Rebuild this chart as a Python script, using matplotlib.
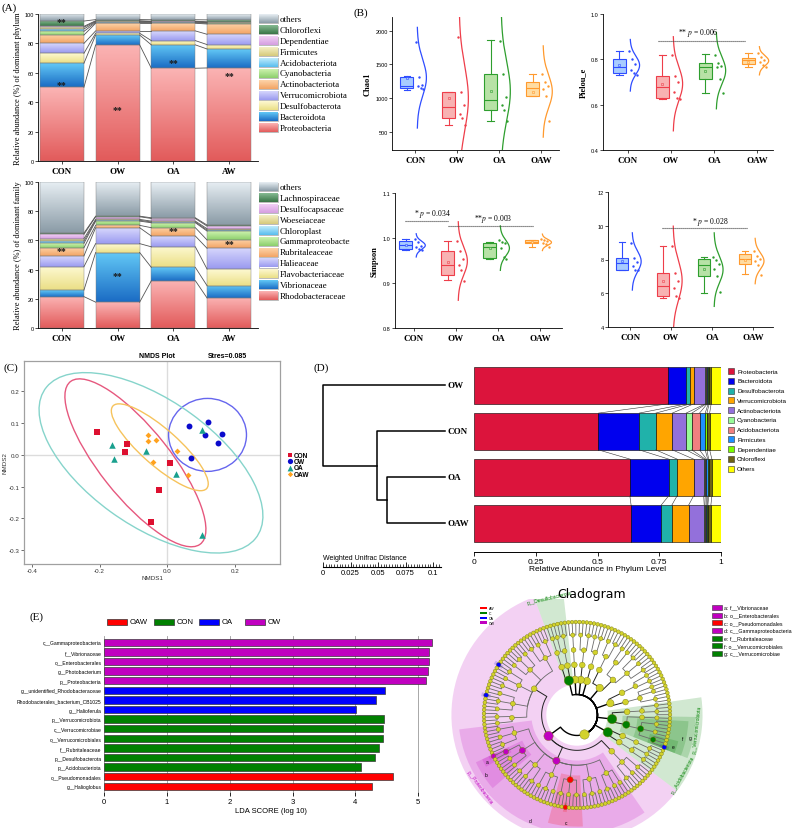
import numpy as np
import matplotlib
matplotlib.use('Agg')
import matplotlib.pyplot as plt
from matplotlib.colors import LinearSegmentedColormap
from matplotlib.patches import Rectangle, Ellipse, Wedge
from matplotlib.collections import LineCollection

SERIF = ['Liberation Serif', 'DejaVu Serif']
SANS = ['Liberation Sans', 'DejaVu Sans']
plt.rcParams['font.family'] = SANS
plt.rcParams['mathtext.fontset'] = 'stix'
plt.rcParams['axes.facecolor'] = 'none'

# ---------------- (A) relative abundance ----------------
a_groups = ['CON', 'OW', 'OA', 'AW']
phylum_names = ['Proteobacteria', 'Bacteroidota', 'Desulfobacterota', 'Verrucomicrobiota',
                'Actinobacteriota', 'Cyanobacteria', 'Acidobacteriota', 'Firmicutes',
                'Dependentiae', 'Chloroflexi', 'others']
# rows follow phylum_names, columns follow a_groups
phylum_pct = [[50.2, 79.0, 63.1, 63.3],
              [16.3, 6.7, 15.9, 12.9],
              [6.8, 1.2, 2.9, 3.0],
              [6.7, 1.6, 6.6, 7.0],
              [5.7, 5.2, 5.2, 7.0],
              [2.5, 0.5, 0.4, 0.5],
              [1.6, 0.5, 0.4, 0.4],
              [1.2, 0.4, 0.3, 0.3],
              [0.6, 0.3, 0.3, 0.3],
              [3.6, 0.8, 1.0, 1.3],
              [4.8, 3.8, 3.9, 4.0]]
phylum_stars = [(0, 52), (0, 95), (1, 35), (2, 67), (3, 58)]

family_names = ['Rhodobacteraceae', 'Vibrionaceae', 'Flavobacteriaceae', 'Halieaceae',
                'Rubritaleaceae', 'Gammaproteobacteria', 'Chloroplast', 'Woeseiaceae',
                'Desulfocapsaceae', 'Lachnospiraceae', 'others']
family_pct = [[21.5, 17.7, 32.4, 20.6],
              [4.5, 34.0, 9.1, 8.4],
              [16.0, 6.1, 14.1, 11.4],
              [7.4, 10.9, 7.4, 14.2],
              [5.6, 1.6, 5.7, 5.7],
              [3.0, 2.9, 3.4, 6.1],
              [1.6, 0.6, 0.5, 0.7],
              [1.6, 0.6, 0.6, 0.9],
              [3.0, 1.8, 1.8, 1.8],
              [0.8, 0.4, 0.5, 0.7],
              [35.0, 23.4, 24.5, 29.5]]
family_stars = [(0, 53), (1, 36), (2, 66.5), (3, 58)]

# ---------------- (B) alpha diversity ----------------
alpha_groups = ['CON', 'OW', 'OA', 'OAW']
# box stats: whislo, q1, median, q3, whishi, mean
chao1_box = [[1120, 1150, 1185, 1310, 1330, 1290],
             [604, 705, 869, 1092, 1092, 1003],
             [660, 818, 967, 1361, 1853, 1107],
             [1027, 1027, 1152, 1231, 1351, 1092]]
chao1_pts = [[1830, 1310, 1190, 1185, 1150, 1140],
             [1910, 1090, 890, 770, 705, 600],
             [1850, 1360, 1020, 900, 820, 660],
             [1350, 1240, 1175, 1130, 1030, 655]]
pielou_box = [[0.731, 0.740, 0.765, 0.801, 0.838, 0.775],
              [0.625, 0.628, 0.677, 0.726, 0.819, 0.691],
              [0.650, 0.713, 0.765, 0.782, 0.823, 0.750],
              [0.767, 0.779, 0.797, 0.806, 0.826, 0.790]]
pielou_pts = [[0.838, 0.80, 0.78, 0.755, 0.74, 0.73],
              [0.82, 0.725, 0.70, 0.655, 0.63, 0.623],
              [0.82, 0.786, 0.77, 0.764, 0.713, 0.65],
              [0.826, 0.81, 0.797, 0.787, 0.777, 0.765]]
simpson_box = [[0.974, 0.976, 0.984, 0.994, 0.998, 0.985],
               [0.907, 0.918, 0.941, 0.972, 0.993, 0.946],
               [0.954, 0.956, 0.980, 0.990, 0.992, 0.978],
               [0.979, 0.989, 0.992, 0.996, 0.996, 0.991]]
simpson_pts = [[0.998, 0.991, 0.983, 0.98, 0.976, 0.974],
               [0.993, 0.972, 0.953, 0.94, 0.93, 0.905],
               [0.995, 0.992, 0.988, 0.978, 0.958, 0.954],
               [0.998, 0.995, 0.993, 0.99, 0.986, 0.98]]
shannon_box = [[7.39, 7.39, 7.79, 8.07, 9.01, 7.92],
               [5.70, 5.82, 6.45, 7.20, 8.81, 6.74],
               [6.01, 7.00, 7.67, 8.02, 8.12, 7.43],
               [7.13, 7.73, 8.02, 8.32, 8.51, 8.00]]
shannon_pts = [[9.0, 8.07, 7.83, 7.63, 7.4, 7.38],
               [8.81, 7.2, 6.7, 6.3, 5.82, 5.7],
               [8.15, 8.0, 7.75, 7.45, 7.0, 6.05],
               [8.5, 8.2, 8.05, 7.9, 7.7, 7.1]]

# ---------------- (C) NMDS ----------------
nmds_groups = ['CON', 'OW', 'OA', 'OAW']
nmds1 = [[-0.207, -0.120, -0.126, 0.007, -0.024, -0.049],
         [0.064, 0.119, 0.112, 0.161, 0.150, 0.071],
         [-0.163, -0.158, -0.064, 0.025, 0.104, 0.104],
         [-0.057, -0.057, -0.033, -0.042, 0.030, 0.062]]
nmds2 = [[0.073, 0.034, 0.009, -0.026, -0.112, -0.212],
         [0.092, 0.105, 0.063, 0.065, 0.036, -0.011],
         [0.032, -0.014, 0.011, -0.061, 0.079, -0.253],
         [0.062, 0.044, 0.048, -0.021, 0.011, -0.064]]
ell_cx = [-0.094, 0.119, -0.048, -0.022]
ell_cy = [-0.025, 0.063, -0.025, 0.024]
ell_w = [0.64, 0.23, 0.78, 0.38]
ell_h = [0.21, 0.23, 0.39, 0.112]
ell_ang = [-53.5, 0.0, -37.8, -43.5]

# ---------------- (D) phylum composition + UPGMA ----------------
d_groups = ['OW', 'CON', 'OA', 'OAW']
d_phyla = ['Proteobacteria', 'Bacteroidota', 'Desulfobacterota', 'Verrucomicrobiota',
           'Actinobacteriota', 'Cyanobacteria', 'Acidobacteriota', 'Firmicutes',
           'Dependentiae', 'Chloroflexi', 'Others']
d_frac = [[0.785, 0.504, 0.631, 0.636],
          [0.074, 0.165, 0.157, 0.122],
          [0.017, 0.067, 0.034, 0.043],
          [0.013, 0.067, 0.067, 0.068],
          [0.047, 0.056, 0.041, 0.063],
          [0.004, 0.023, 0.006, 0.003],
          [0.004, 0.031, 0.005, 0.005],
          [0.004, 0.023, 0.005, 0.004],
          [0.004, 0.007, 0.004, 0.003],
          [0.008, 0.011, 0.013, 0.012],
          [0.040, 0.046, 0.037, 0.041]]
dendro_links = [('OA', 'OAW', 0.053), ('CON', 'OA+OAW', 0.062), ('OW', 'CON+OA+OAW', 0.111)]

# ---------------- (E) LEfSe ----------------
lda_taxa = ['c__Gammaproteobacteria', 'f__Vibrionaceae', 'o__Enterobacterales', 'g__Photobacterium',
            'p__Proteobacteria', 'g__unidentified_Rhodobacteraceae', 'Rhodobacterales_bacterium_CB1025',
            'g__Halioferula', 'p__Verrucomicrobiota', 'c__Verrucomicrobiae', 'o__Verrucomicrobiales',
            'f__Rubritaleaceae', 'p__Desulfobacterota', 'p__Acidobacteriota', 'o__Pseudomonadales',
            'g__Halioglobus']
lda_score = [5.22, 5.17, 5.17, 5.16, 5.12, 4.47, 4.32, 4.01, 4.45, 4.44, 4.44, 4.37, 4.31, 4.09, 4.60, 4.27]
lda_group = ['OW'] * 5 + ['OA'] * 3 + ['CON'] * 6 + ['OAW'] * 2

clade_phyla = ['Proteobacteria', 'Acidobacteriota', 'Verrucomicrobiota', 'Actinobacteriota',
               'Bacteroidota', 'Cyanobacteria', 'Firmicutes', 'Planctomycetota', 'Desulfobacterota']
clade_class_sizes = [[34, 52, 8], [4, 3], [9, 4], [6, 4], [12, 5], [4], [5], [3], [4, 2]]
clade_marks = {(0,): 'OW', (0, 1): 'OW', (0, 1, 1): 'OW', (0, 1, 1, 0): 'OW', (0, 1, 1, 0, 0): 'OW',
               (0, 1, 4): 'OAW', (0, 1, 4, 1, 0): 'OAW',
               (0, 0, 2, 0, 1): 'OA', (0, 0, 3, 1, 0): 'OA', (2, 0, 0, 0, 0): 'OA',
               (2,): 'CON', (2, 0): 'CON', (2, 0, 0): 'CON', (2, 0, 0, 0): 'CON',
               (1,): 'CON', (8,): 'CON'}
clade_labeled = [('a', 'f__Vibrionaceae', (0, 1, 1, 0)), ('b', 'o__Enterobacterales', (0, 1, 1)),
                 ('c', 'o__Pseudomonadales', (0, 1, 4)), ('d', 'c__Gammaproteobacteria', (0, 1)),
                 ('e', 'f__Rubritaleaceae', (2, 0, 0, 0)), ('f', 'o__Verrucomicrobiales', (2, 0, 0)),
                 ('g', 'c__Verrucomicrobiae', (2, 0))]

# ---------------- figure ----------------
W, H = 800, 829
fig = plt.figure(figsize=(W / 100, H / 100), dpi=100)


def px_axes(x0, y0, x1, y1):
    return fig.add_axes([x0 / W, 1 - y1 / H, (x1 - x0) / W, (y1 - y0) / H])


a_colors = [('#fbb4b4', '#e25b5b'), ('#62c8f6', '#1b6cc4'), ('#fdf9d2', '#ebdf86'),
            ('#d6d6fc', '#9a9af0'), ('#fdd4aa', '#f3a464'), ('#cdf2ae', '#8ccf6c'),
            ('#c0ecfc', '#58bdee'), ('#f4f0c4', '#d6c97c'), ('#f2d0f6', '#d59ee0'),
            ('#86bb92', '#3a7548'), ('#e8eff4', '#8a9ba6')]
GRAD = np.linspace(0, 1, 64).reshape(-1, 1)
_cmaps = {}


def grad_rect(ax, x0, x1, y0, y1, cols, z=2):
    if cols not in _cmaps:
        _cmaps[cols] = LinearSegmentedColormap.from_list('g%d' % len(_cmaps), [cols[1], cols[0]])
    ax.imshow(GRAD, extent=(x0, x1, y0, y1), origin='lower', cmap=_cmaps[cols],
              aspect='auto', zorder=z, interpolation='bilinear')


def abundance_panel(box, names, pct, stars, ylabel, leg_box):
    ax = px_axes(*box)
    pct = np.array(pct, dtype=float)
    xs = np.arange(len(a_groups))
    bw = 0.79
    cum = np.vstack([np.zeros(len(xs)), np.cumsum(pct, axis=0)])
    for i in range(len(names)):
        for j, x in enumerate(xs):
            grad_rect(ax, x - bw / 2, x + bw / 2, cum[i, j], cum[i + 1, j], a_colors[i])
            ax.add_patch(Rectangle((x - bw / 2, cum[i, j]), bw, pct[i, j], fill=False,
                                   ec='#7a7a7a', lw=0.3, zorder=3))
    for k in range(1, len(names)):
        for j in range(len(xs) - 1):
            ax.plot([xs[j] + bw / 2, xs[j + 1] - bw / 2], [cum[k, j], cum[k, j + 1]],
                    color='#555555', lw=0.6, zorder=3)
    for j, y in stars:
        ax.text(xs[j], y, '**', ha='center', va='center', fontsize=7, fontweight='bold',
                color='#1a1a1a', zorder=5, family=SERIF)
    ax.set_xlim(-0.43, 3.52)
    ax.set_ylim(0, 100)
    ax.set_xticks(xs)
    ax.set_xticklabels(a_groups, fontsize=6.5, fontweight='bold', family=SERIF)
    ax.set_yticks(range(0, 101, 20))
    ax.tick_params(axis='y', labelsize=4, length=2, width=0.5, pad=1)
    ax.tick_params(axis='x', length=2, width=0.5, pad=2)
    ax.set_ylabel(ylabel, fontsize=6, family=SERIF, labelpad=2)
    for s in ('top', 'right'):
        ax.spines[s].set_visible(False)
    for s in ('left', 'bottom'):
        ax.spines[s].set_linewidth(0.6)
    lg = px_axes(*leg_box)
    x0, y0, x1, y1 = leg_box
    n = len(names)
    for k in range(n):
        i = n - 1 - k
        yc = y0 + 5.5 + k * 10.9
        grad_rect(lg, x0 + 0.5, x0 + 19.5, yc + 4.2, yc - 4.2, a_colors[i])
        lg.add_patch(Rectangle((x0 + 0.5, yc - 4.2), 19, 8.4, fill=False, ec='#888888', lw=0.4))
        lg.text(x0 + 22, yc, names[i], fontsize=6.5, family=SERIF, va='center', ha='left', clip_on=True)
    lg.set_xlim(x0, x1)
    lg.set_ylim(y1, y0)
    lg.axis('off')


abundance_panel((38, 15, 258, 162), phylum_names, phylum_pct, phylum_stars,
                'Relative abundance (%) of dominant phylum', (258, 14.5, 350, 135))
abundance_panel((38, 183, 258, 329), family_names, family_pct, family_stars,
                'Relative abundance (%) of dominant family', (258, 182.5, 350, 302))

# ---------------- (B) ----------------
b_line = ['#2f4dff', '#ee3e4a', '#2e9e2e', '#ff9a2e']
b_face = ['#a8ccff', '#f8b2b2', '#b7e2a6', '#ffdca2']
pt_offsets = [0.03, 0.1, 0.17, 0.06, 0.13, 0.2]


def alpha_panel(box, pts, stats, ylim, yticks, ylabel, xlim, notes):
    ax = px_axes(*box)
    pos = np.arange(len(alpha_groups))
    bst = [dict(whislo=s[0], q1=s[1], med=s[2], q3=s[3], whishi=s[4], mean=s[5], fliers=[])
           for s in stats]
    art = ax.bxp(bst, positions=pos - 0.2, widths=0.3, patch_artist=True, showmeans=True,
                 showfliers=False, manage_ticks=False)
    for i in range(len(pos)):
        c = b_line[i]
        art['boxes'][i].set(facecolor=b_face[i], edgecolor=c, lw=0.8)
        art['medians'][i].set(color=c, lw=0.8)
        for w in art['whiskers'][2 * i:2 * i + 2]:
            w.set(color=c, lw=0.8)
        for cp in art['caps'][2 * i:2 * i + 2]:
            cp.set(color=c, lw=0.8)
        art['means'][i].set(marker='s', markersize=2, markerfacecolor=b_face[i],
                            markeredgecolor=c, markeredgewidth=0.4)
        p = np.array(pts[i], dtype=float)
        ax.scatter(pos[i] + np.array(pt_offsets[:len(p)]), p, s=3, color=c, zorder=4, lw=0)
        m, sd = p.mean(), p.std(ddof=1)
        yy = np.linspace(m - 2.8 * sd, m + 2.8 * sd, 150)
        dens = np.exp(-0.5 * ((yy - m) / sd) ** 2)
        ax.plot(pos[i] + 0.05 + 0.22 * dens, yy, color=c, lw=0.9)
    for xa, xb, yl, xt, yt, txt in notes:
        ax.plot([xa, xb], [yl, yl], color='#444444', lw=0.8, ls=(0, (1, 0.8)))
        ax.text(xt, yt, txt, ha='center', va='center', fontsize=5.5, family=SERIF)
    ax.set_xlim(*xlim)
    ax.set_ylim(*ylim)
    ax.set_xticks(pos)
    ax.set_xticklabels(alpha_groups, fontsize=6.5, fontweight='bold', family=SERIF)
    ax.set_yticks(yticks)
    ax.tick_params(axis='y', labelsize=4, length=2, width=0.5, pad=1)
    ax.tick_params(axis='x', length=2, width=0.5, pad=2)
    if ylabel:
        ax.set_ylabel(ylabel, fontsize=6, fontweight='bold', family=SERIF, labelpad=3)
    for s in ('top', 'right'):
        ax.spines[s].set_visible(False)
    for s in ('left', 'bottom'):
        ax.spines[s].set_linewidth(0.6)


alpha_panel((392, 18, 559, 151), chao1_pts, chao1_box, (230, 2200), [500, 1000, 1500, 2000],
            'Chao1', (-0.55, 3.43), [])
alpha_panel((603, 15, 773, 151), pielou_pts, pielou_box, (0.4, 1.0), [0.4, 0.6, 0.8, 1.0],
            'Pielou_e', (-0.58, 3.37), [(0.7, 2.72, 0.881, 1.63, 0.92, '** $p$ = 0.006')])
alpha_panel((395, 194, 562, 329), simpson_pts, simpson_box, (0.8, 1.1), [0.8, 0.9, 1.0, 1.1],
            'Simpson', (-0.45, 3.52),
            [(-0.21, 0.81, 1.038, 0.45, 1.056, '* $p$ = 0.034'),
             (0.81, 2.83, 1.027, 1.88, 1.044, '**$p$ = 0.003')])
alpha_panel((608, 193, 773, 328), shannon_pts, shannon_box, (4, 12), [4, 6, 8, 10, 12],
            '', (-0.54, 3.49), [(0.78, 2.85, 9.86, 1.95, 10.27, '* $p$ = 0.028')])

# ---------------- (C) ----------------
axc = px_axes(24, 362, 280, 565)
c_colors = ['#dd1030', '#0a0acc', '#19a08e', '#ffa21f']
c_markers = ['s', 'o', '^', 'D']
c_sizes = [16, 18, 22, 9]
ell_colors = ['#e6587e', '#6666ee', '#86d4cb', '#f6c35c']
for i in range(len(nmds_groups)):
    axc.add_patch(Ellipse((ell_cx[i], ell_cy[i]), ell_w[i], ell_h[i], angle=ell_ang[i],
                          fill=False, ec=ell_colors[i], lw=1.0, zorder=2))
    axc.scatter(nmds1[i], nmds2[i], marker=c_markers[i], s=c_sizes[i], color=c_colors[i],
                lw=0, zorder=3)
axc.axhline(0, color='#dcdcdc', lw=1.0, zorder=1)
axc.axvline(0, color='#dcdcdc', lw=1.0, zorder=1)
axc.set_xlim(-0.423, 0.333)
axc.set_ylim(-0.344, 0.296)
axc.set_xticks([-0.4, -0.2, 0.0, 0.2])
axc.set_xticklabels(['-0.4', '-0.2', '0.0', '0.2'])
axc.set_yticks([-0.3, -0.2, -0.1, 0.0, 0.1, 0.2])
axc.set_yticklabels(['-0.3', '-0.2', '-0.1', '0.0', '0.1', '0.2'])
axc.tick_params(labelsize=4.5, length=2, width=0.5, pad=1, colors='#333333')
for s in axc.spines.values():
    s.set_color('#a0a0a0')
    s.set_linewidth(0.9)
axc.set_xlabel('NMDS1', fontsize=4.5, labelpad=1, color='#333333')
axc.set_ylabel('NMDS2', fontsize=4.5, labelpad=1, color='#333333')
fig.text(157 / W, 1 - 357 / H, 'NMDS Plot', fontsize=5, fontweight='bold', ha='center', va='center')
fig.text(227 / W, 1 - 357 / H, 'Stres=0.085', fontsize=5, fontweight='bold', ha='center', va='center')
lgc = px_axes(284, 450, 330, 482)
for k, g in enumerate(nmds_groups):
    yc = 456 + k * 6.4
    lgc.scatter([290], [yc], marker=c_markers[k], s=c_sizes[k] * 0.8, color=c_colors[k], lw=0)
    lgc.text(294, yc, g, fontsize=4.7, fontweight='bold', va='center', ha='left')
lgc.set_xlim(284, 330)
lgc.set_ylim(482, 450)
lgc.axis('off')

# ---------------- (D) ----------------
d_colors = ['#dc143c', '#0000ee', '#20b2aa', '#ffa500', '#9370db', '#98fb98', '#f08080',
            '#1e90ff', '#7cfc00', '#6e6414', '#ffff00']
ylim_d = (3.62, -0.576)
axd = px_axes(474, 360, 721, 553)
d_arr = np.array(d_frac)
yd = np.arange(len(d_groups))
cumd = np.vstack([np.zeros(len(d_groups)), np.cumsum(d_arr, axis=0)])
for i in range(len(d_phyla)):
    axd.barh(yd, d_arr[i], left=cumd[i], height=0.8, color=d_colors[i], edgecolor='black', lw=0.4)
for k in range(1, len(d_phyla)):
    for j in range(len(d_groups) - 1):
        axd.plot([cumd[k, j], cumd[k, j + 1]], [yd[j] + 0.4, yd[j + 1] - 0.4], color='#333333', lw=0.4)
axd.set_xlim(0, 1)
axd.set_ylim(*ylim_d)
axd.set_yticks([])
for s in ('top', 'right', 'left'):
    axd.spines[s].set_visible(False)
axd.spines['bottom'].set_bounds(0, 1)
axd.spines['bottom'].set_linewidth(0.7)
axd.set_xticks([0, 0.25, 0.5, 0.75, 1])
axd.set_xticklabels(['0', '0.25', '0.5', '0.75', '1'])
axd.tick_params(axis='x', labelsize=6, length=3, width=0.6, pad=1)
axd.set_xlabel('Relative Abundance in Phylum Level', fontsize=6, labelpad=0)

lgd = px_axes(726, 365, 800, 476)
for k, name in enumerate(d_phyla):
    yc = 372 + k * 9.77
    lgd.add_patch(Rectangle((728, yc - 3), 6, 6, facecolor=d_colors[k], edgecolor='#333333', lw=0.4))
    lgd.text(737, yc, name, fontsize=4.5, va='center', ha='left')
lgd.set_xlim(726, 800)
lgd.set_ylim(476, 365)
lgd.axis('off')

axt = px_axes(320, 360, 470, 553)
h_root = dendro_links[-1][2]
node_pos = {g: (h_root, i) for i, g in enumerate(d_groups)}
for a, b, h in dendro_links:
    x = h_root - h
    (xa, ya), (xb, yb) = node_pos[a], node_pos[b]
    axt.plot([xa, x, x, xb], [ya, ya, yb, yb], color='black', lw=1.1, solid_joinstyle='round')
    node_pos[a + '+' + b] = (x, (ya + yb) / 2)
for i, g in enumerate(d_groups):
    axt.text(h_root + 0.002, i, g, fontsize=6.5, fontweight='bold', family=SERIF, va='center', ha='left')
axt.set_xlim(-0.00273, 0.1336)
axt.set_ylim(*ylim_d)
axt.axis('off')

axs = px_axes(320, 540, 470, 568)
axs.set_xlim(-0.00273, 0.1336)
for s in ('top', 'right', 'left'):
    axs.spines[s].set_visible(False)
axs.spines['bottom'].set_bounds(0, 0.107)
axs.spines['bottom'].set_linewidth(0.8)
axs.set_yticks([])
axs.set_xticks([0, 0.025, 0.05, 0.075, 0.1])
axs.set_xticklabels(['0', '0.025', '0.05', '0.075', '0.1'])
axs.set_xticks(np.arange(0, 0.1075, 0.0025), minor=True)
axs.tick_params(axis='x', which='major', direction='in', length=3.5, width=0.6, labelsize=5.5, pad=1.5)
axs.tick_params(axis='x', which='minor', direction='in', length=2, width=0.5)
fig.text(323 / W, 1 - 558 / H, 'Weighted Unifrac Distance', fontsize=5, ha='left', va='center')

# ---------------- (E) LDA ----------------
e_colors = {'OAW': '#ff0000', 'CON': '#008000', 'OA': '#0000ff', 'OW': '#c000c0'}
axe = px_axes(104.3, 637, 437.1, 793)
ye = np.arange(len(lda_taxa))
axe.barh(ye, lda_score, height=0.76, color=[e_colors[g] for g in lda_group],
         edgecolor='#3a3a3a', lw=0.5, zorder=3)
axe.set_ylim(15.59, -0.66)
axe.set_xlim(0, 5.3)
axe.set_yticks(ye)
axe.set_yticklabels(lda_taxa, fontsize=3.6)
axe.tick_params(axis='y', length=0, pad=2)
axe.set_xticks(range(6))
axe.tick_params(axis='x', labelsize=5.5, length=3, width=0.6, pad=1)
axe.grid(axis='x', color='#9a9a9a', lw=0.6, zorder=0)
axe.set_axisbelow(True)
for s in axe.spines.values():
    s.set_visible(False)
axe.set_xlabel('LDA SCORE (log 10)', fontsize=5.5, labelpad=2)

lge = px_axes(100, 614, 300, 632)
for g, xp in zip(['OAW', 'CON', 'OA', 'OW'], [107, 154, 199, 245]):
    lge.add_patch(Rectangle((xp, 620), 20, 6, facecolor=e_colors[g], edgecolor='#333333', lw=0.5))
    lge.text(xp + 23, 623, g, fontsize=5.5, va='center', ha='left')
lge.set_xlim(100, 300)
lge.set_ylim(632, 614)
lge.axis('off')

# ---------------- (E) cladogram ----------------
axk = px_axes(445, 600, 710, 829)
R = [0.22, 0.38, 0.54, 0.70, 0.86, 1.0]
node_s = [45, 28, 17, 12, 9, 7]
clade_start = 110.0
leaves = []
for p, sizes in enumerate(clade_class_sizes):
    for c, n in enumerate(sizes):
        fam = []
        while sum(fam) < n:
            fam.append(min(3 - len(fam) % 2, n - sum(fam)))
        for fi, fs in enumerate(fam):
            for g in range(fs):
                leaves.append((p, c, fi // 3, fi % 3, g))
step = 360.0 / len(leaves)
spans = {}
for i, lf in enumerate(leaves):
    a = clade_start + (i + 0.5) * step
    for L in range(6):
        lo, hi = spans.get(lf[:L], (a, a))
        spans[lf[:L]] = (min(lo, a), max(hi, a))
node_ang = {k: (lo + hi) / 2 for k, (lo, hi) in spans.items()}

# shaded clades
for key, g in clade_marks.items():
    L = len(key)
    lo, hi = spans[key]
    r_out = 1.05 + 0.075 * (5 - L)
    axk.add_patch(Wedge((0, 0), r_out, lo - step / 2, hi + step / 2, width=r_out - (R[L] - 0.05),
                        facecolor=e_colors[g], alpha=0.18, lw=0, zorder=0.5))
    mid = np.radians((lo + hi) / 2)
    rot = (np.degrees(mid) - 90) % 360
    if 90 < rot < 270:
        rot -= 180
    if L == 1:
        axk.text((r_out - 0.05) * np.cos(mid), (r_out - 0.05) * np.sin(mid), 'p__' + clade_phyla[key[0]],
                 fontsize=3.5, color=e_colors[g], rotation=rot, ha='center', va='center', zorder=6)
for letter, name, key in clade_labeled:
    L = len(key)
    lo, hi = spans[key]
    r_out = 1.05 + 0.075 * (5 - L)
    mid = np.radians((lo + hi) / 2)
    axk.text((r_out - 0.035) * np.cos(mid), (r_out - 0.035) * np.sin(mid), letter, fontsize=3.5,
             ha='center', va='center', zorder=6)

# edges
buckets = {0: [], 1: [], 2: []}
for key, ca in node_ang.items():
    L = len(key)
    if L == 0:
        continue
    pa = node_ang[key[:-1]]
    th = np.radians(np.linspace(pa, ca, int(abs(ca - pa) / 2) + 2))
    r0, r1 = R[L - 1], R[L]
    path = np.vstack([np.column_stack([r0 * np.cos(th), r0 * np.sin(th)]),
                      [[r1 * np.cos(th[-1]), r1 * np.sin(th[-1])]]])
    buckets[0 if L == 1 else (1 if L == 2 else 2)].append(path)
for b, (col, lw) in enumerate([('black', 1.0), ('#222222', 0.7), ('#6a6a6a', 0.6)]):
    axk.add_collection(LineCollection(buckets[b], colors=col, linewidths=lw, zorder=2))

# nodes
for L in range(6):
    keys = [k for k in node_ang if len(k) == L]
    th = np.radians([node_ang[k] for k in keys])
    cols = [e_colors[clade_marks[k]] if k in clade_marks else '#d2d22c' for k in keys]
    sz = [node_s[L] * (1.6 if k in clade_marks else 1.0) for k in keys]
    axk.scatter(R[L] * np.cos(th), R[L] * np.sin(th), s=sz, c=cols, edgecolors='#7a7a10',
                linewidths=0.3, zorder=3 + (L == 0))
axk.set_xlim(-1.419, 1.430)
axk.set_ylim(-1.215, 1.247)
axk.axis('off')
fig.text(592 / W, 1 - 595 / H, 'Cladogram', fontsize=9, ha='center', va='center', family=['DejaVu Sans'])

lgk = px_axes(476, 604, 520, 628)
for k, (lab, g) in enumerate(zip(['AW', 'C', 'OA', 'OW'], ['OAW', 'CON', 'OA', 'OW'])):
    yc = 609 + k * 4.9
    lgk.add_patch(Rectangle((480, yc - 1.3), 7, 2.6, facecolor=e_colors[g], lw=0))
    lgk.text(489, yc, lab, fontsize=2.5, va='center', ha='left')
lgk.set_xlim(476, 520)
lgk.set_ylim(628, 604)
lgk.axis('off')

lgr = px_axes(708, 602, 800, 660)
for k, (letter, name, key) in enumerate(clade_labeled):
    yc = 608.3 + k * 7.7
    lgr.add_patch(Rectangle((712, yc - 2.5), 10, 5, facecolor=e_colors[clade_marks[key]],
                            edgecolor='#333333', lw=0.4))
    lgr.text(724, yc, '%s: %s' % (letter, name), fontsize=3.8, va='center', ha='left')
lgr.set_xlim(708, 800)
lgr.set_ylim(660, 602)
lgr.axis('off')

# panel letters
for lab, x, y in [('(A)', 2, 8), ('(B)', 353, 13), ('(C)', 3, 368), ('(D)', 314, 368), ('(E)', 30, 617)]:
    fig.text(x / W, 1 - y / H, lab, fontsize=8, family=SERIF, ha='left', va='center')

fig.savefig('out.png', dpi=100)
